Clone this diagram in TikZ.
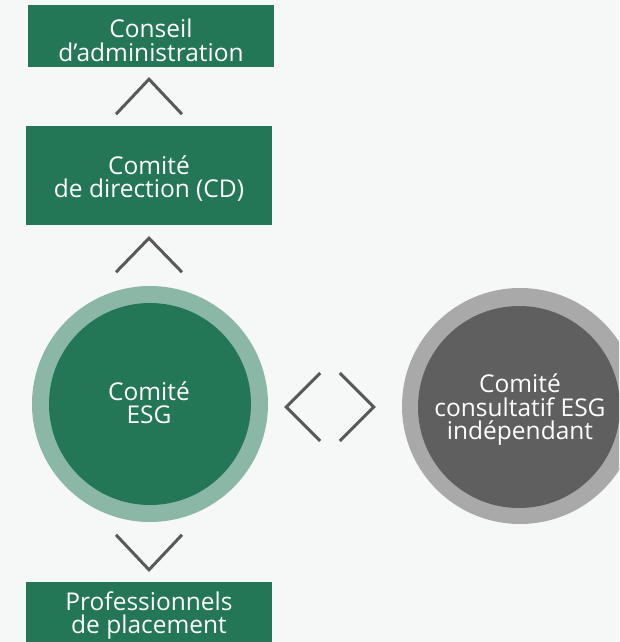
\documentclass[tikz,border=0pt]{standalone}
\usepackage{fontspec}
\setmainfont{Open Sans}
\usetikzlibrary{calc}

\definecolor{pagebg}{HTML}{F6F7F7}
\definecolor{boxgreen}{HTML}{237656}
\definecolor{ringgreen}{HTML}{8BB8A6}
\definecolor{coredark}{HTML}{5F5F5F}
\definecolor{ringgray}{HTML}{A9A9A9}
\definecolor{chevgray}{HTML}{595959}

\tikzset{
  label font/.style={font=\fontsize{24.5}{23.5}\selectfont, text=white, align=center, inner sep=0pt},
  greenbox/.style={fill=boxgreen, inner sep=0pt, minimum width=246pt},
  ringdisc/.style={circle, inner sep=0pt, minimum size=236pt},
  coredisc/.style={circle, inner sep=0pt, minimum size=202pt},
  chevron/.style={draw=chevgray, line width=3pt, line join=miter, line cap=butt},
}

\begin{document}
\begin{tikzpicture}[x=1pt, y=-1pt]
  \clip (0,0) rectangle (619,642);
  \fill[pagebg] (0,0) rectangle (619,642);

  % hierarchy boxes
  \node[greenbox, minimum height=62pt] (board) at (151,36) {};
  \node[greenbox, minimum height=99pt] (exec) at (149,175.5) {};
  \node[greenbox, minimum height=64pt] (pros) at (149,614) {};

  % ESG committee disc
  \node[ringdisc, fill=ringgreen] (esgring) at (150,404) {};
  \node[coredisc, fill=boxgreen] (esg) at (150,404) {};

  % independent advisory committee disc
  \node[ringdisc, fill=ringgray] (advring) at (520,406) {};
  \node[coredisc, fill=coredark] (adv) at (519,407) {};

  % labels
  \node[label font] (boardtxt) at (151,40.5) {Conseil\\d’administration};
  \node[label font] (exectxt) at (149,178.8) {Comité\\de direction (CD)};
  \node[label font] (prostxt) at (149,615.5) {Professionnels\\de placement};
  \node[label font] (esgtxt) at (149,402.5) {Comité\\ESG};
  \node[label font] (advtxt) at (520,410) {Comité\\consultatif ESG\\indépendant};

  % chevrons between the levels
  \draw[chevron] ($(board.south)+(-35,47)$) -- ($(board.south)+(-2,12)$) -- ($(board.south)+(31,47)$);
  \draw[chevron] ($(exec.south)+(-33,47)$) -- ($(exec.south)+(0,13)$) -- ($(exec.south)+(33,47)$);
  \draw[chevron] ($(pros.north)+(-33,-47)$) -- ($(pros.north)+(0,-12)$) -- ($(pros.north)+(33,-47)$);

  % facing chevrons between the two committees
  \draw[chevron] ($(esgring.east)+(52,-31)$) -- ($(esgring.east)+(18,3)$) -- ($(esgring.east)+(52,37)$);
  \draw[chevron] ($(advring.west)+(-62,-33)$) -- ($(advring.west)+(-28,1)$) -- ($(advring.west)+(-62,35)$);
\end{tikzpicture}
\end{document}
